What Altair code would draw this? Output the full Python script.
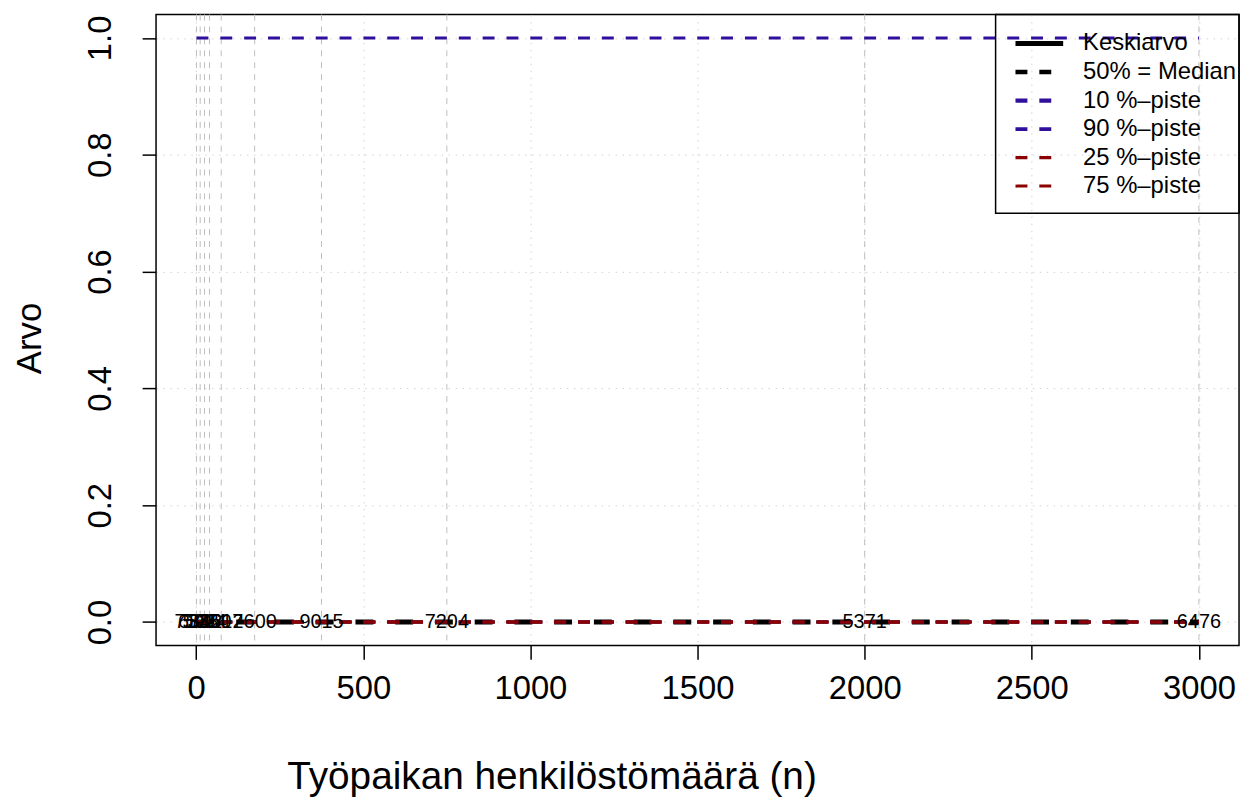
import altair as alt
import pandas as pd

# ---- data ----
classes_x = [1, 12, 25, 40, 75, 175, 375, 750, 2000, 3000]
class_n = ["7538", "6802", "5924", "3350", "4617", "2600", "9015", "7204", "5371", "6476"]

mean_vals = [0, 0, 0, 0, 0, 0, 0, 0, 0, 0]
median_vals = [0, 0, 0, 0, 0, 0, 0, 0, 0, 0]
p10_vals = [0, 0, 0, 0, 0, 0, 0, 0, 0, 0]
p90_vals = [1, 1, 1, 1, 1, 1, 1, 1, 1, 1]
p25_vals = [0, 0, 0, 0, 0, 0, 0, 0, 0, 0]
p75_vals = [0, 0, 0, 0, 0, 0, 0, 0, 0, 0]

legend_labels = ["Keskiarvo", "50% = Median", "10 %–piste", "90 %–piste", "25 %–piste", "75 %–piste"]
x_ticks = [0, 500, 1000, 1500, 2000, 2500, 3000]
y_ticks = [0.0, 0.2, 0.4, 0.6, 0.8, 1.0]

# ---- styling ----
FONT = "Liberation Sans"
W, H = 1090, 635
BLUE = "#2f0f9c"
RED = "#8b0000"

xscale = alt.Scale(domain=[-120, 3120], nice=False, zero=False)
yscale = alt.Scale(domain=[-0.04, 1.04], nice=False, zero=False)

xaxis = alt.Axis(
    values=x_ticks, format="d", title="Työpaikan henkilöstömäärä (n)",
    grid=True, gridDash=[1.5, 5.5], gridColor="#d3d3d3", gridWidth=1,
    domain=False, ticks=True, tickSize=14, tickColor="black", tickWidth=1.5,
    labelFontSize=33, labelPadding=13, labelFlush=False, labelOverlap=False,
    labelColor="black", labelFont=FONT,
    titleFontSize=39, titleFontWeight="normal", titleColor="black", titleFont=FONT,
    titleX=398, titleY=132, titleBaseline="middle", titleAlign="center",
)
yaxis = alt.Axis(
    values=y_ticks, format=".1f", title="Arvo",
    grid=True, gridDash=[1.5, 5.5], gridColor="#d3d3d3", gridWidth=1,
    domain=False, ticks=True, tickSize=14, tickColor="black", tickWidth=1.5,
    labelFontSize=33, labelPadding=25, labelFlush=False, labelOverlap=False,
    labelAngle=270, labelAlign="center", labelBaseline="bottom",
    labelColor="black", labelFont=FONT,
    titleFontSize=35, titleFontWeight="normal", titleColor="black", titleFont=FONT,
    titleAngle=270, titleX=-127, titleY=H / 2 + 8, titleBaseline="middle", titleAlign="center",
)

X = alt.X("x:Q", scale=xscale, axis=xaxis)
Y = alt.Y("y:Q", scale=yscale, axis=yaxis)

class_df = pd.DataFrame({"x": classes_x, "n": class_n, "y": [0] * len(classes_x)})

vrules = alt.Chart(class_df).mark_rule(
    color="#bebebe", strokeDash=[6, 6], strokeWidth=1
).encode(x=X)


def series_layer(vals, color, width, dash, offset=0):
    df = pd.DataFrame({"x": classes_x, "y": vals})
    return alt.Chart(df).mark_line(
        color=color, strokeWidth=width, strokeDash=dash, strokeDashOffset=offset
    ).encode(x=X, y=Y)


l_mean = series_layer(mean_vals, "black", 5, [18, 22])
l_med = series_layer(median_vals, "black", 3, [12, 12])
l_p10 = series_layer(p10_vals, BLUE, 3, [12, 12])
l_p90 = series_layer(p90_vals, BLUE, 3, [12, 12])
l_p25 = series_layer(p25_vals, RED, 3, [12, 12])
l_p75 = series_layer(p75_vals, RED, 3, [12, 12])

labels = alt.Chart(class_df).mark_text(
    font=FONT, fontSize=20, align="center", baseline="middle", color="black"
).encode(x=X, y=Y, text="n:N")

# ---- legend (transparent box, top-right of the plot) ----
leg_df = pd.DataFrame({"label": legend_labels})
leg_base = alt.Chart(leg_df).transform_window(
    idx="row_number()"
).transform_calculate(ypix="29.2 + (datum.idx - 1) * 28.7")

leg_sym = leg_base.mark_rule().encode(
    x=alt.value(865), x2=alt.value(913),
    y=alt.Y("ypix:Q", scale=None),
    stroke=alt.Stroke("label:N", scale=alt.Scale(domain=legend_labels,
                      range=["black", "black", BLUE, BLUE, RED, RED]), legend=None),
    strokeDash=alt.StrokeDash("label:N", scale=alt.Scale(domain=legend_labels,
                              range=[[1, 0], [12, 12], [12, 12], [12, 12], [12, 12], [12, 12]]), legend=None),
    strokeWidth=alt.StrokeWidth("label:N", scale=alt.Scale(domain=legend_labels,
                                range=[5, 3, 3, 3, 3, 3]), legend=None),
)
leg_text = leg_base.mark_text(
    font=FONT, fontSize=24, align="left", baseline="middle", color="black"
).encode(x=alt.value(933), y=alt.Y("ypix:Q", scale=None), text="label:N")

leg_box = alt.Chart(pd.DataFrame({"a": [0]})).mark_rect(
    fillOpacity=0, stroke="black", strokeWidth=1.5
).encode(x=alt.value(845), x2=alt.value(W), y=alt.value(0), y2=alt.value(200))

chart = alt.layer(
    vrules, l_mean, l_med, l_p10, l_p90, l_p25, l_p75, labels, leg_box, leg_sym, leg_text
).properties(
    width=W, height=H,
    padding={"left": 149, "top": 4, "right": 5, "bottom": 153},
    autosize=alt.AutoSizeParams(type="none"),
).configure(font=FONT).configure_view(stroke="black", strokeWidth=1.5)

chart.save("out.html", embed_options={"renderer": "svg", "actions": False})
